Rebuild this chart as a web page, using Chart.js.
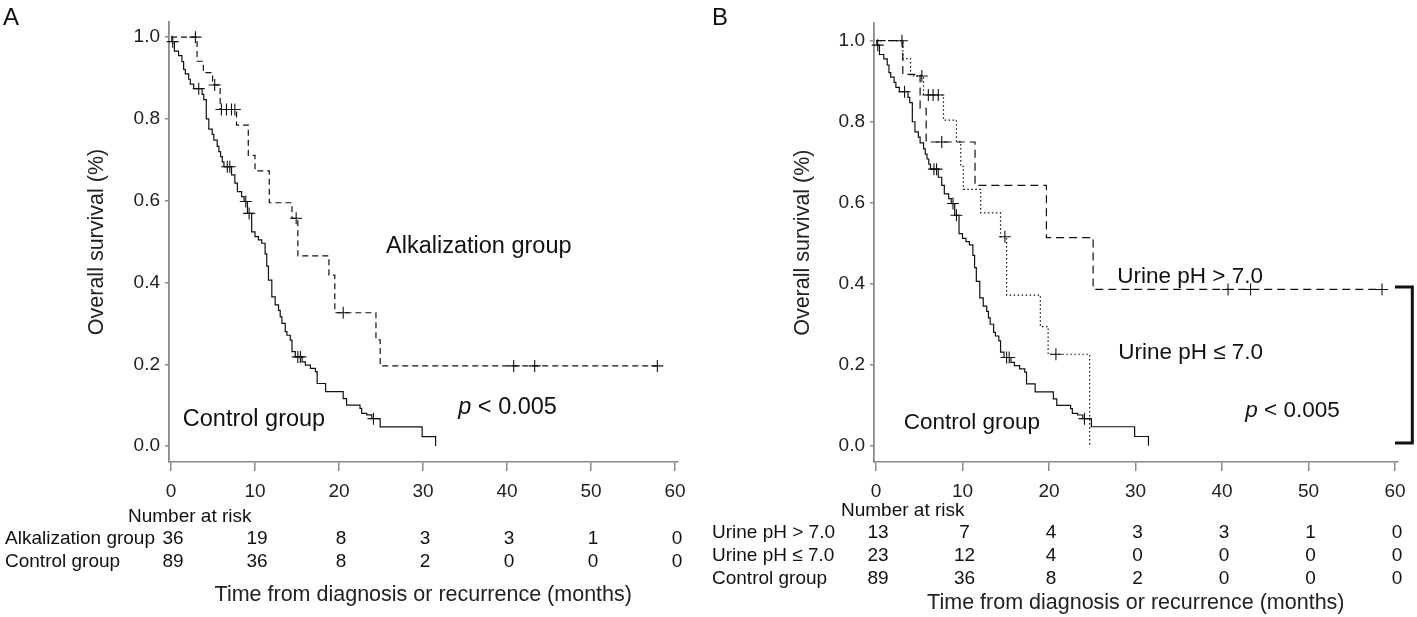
<!DOCTYPE html>
<html>
<head>
<meta charset="utf-8">
<script src="https://cdn.jsdelivr.net/npm/chart.js@4.4.1/dist/chart.umd.min.js"></script>
<style>
  html, body { margin: 0; padding: 0; background: #fff; }
  .wrap { position: relative; width: 1417px; height: 617px; }
  .panel { position: absolute; top: 0; height: 617px; }
  #panelA { left: 0; width: 700px; }
  #panelB { left: 700px; width: 717px; }
</style>
</head>
<body>
<div class="wrap">
  <div class="panel" id="panelA"><canvas id="chartA"></canvas></div>
  <div class="panel" id="panelB"><canvas id="chartB"></canvas></div>
</div>
<script>
const FONT = '"Liberation Sans", Arial, Helvetica, sans-serif';
Chart.defaults.font.family = FONT;
Chart.defaults.color = '#222';

// axis ticks
const xTicks = [0, 10, 20, 30, 40, 50, 60];
const yTicks = [0, 0.2, 0.4, 0.6, 0.8, 1.0];

// control group (both panels): event times (months) and survival after each event
const ctrlT = [0, 0.1, 0.4, 0.9, 1.3, 1.5, 1.7, 2.1, 2.3, 2.7, 3.7, 3.9, 4.2, 4.5, 4.9, 5.1,
  5.5, 5.7, 5.9, 6.1, 6.3, 7.2, 7.6, 7.9, 8.4, 8.7, 9.1, 9.6, 10.0, 10.4, 10.8, 11.2, 11.4,
  11.6, 12.0, 12.4, 12.8, 13.0, 13.2, 13.6, 13.8, 14.2, 14.4, 14.8, 15.6, 16.0, 16.6, 17.2,
  17.4, 18.4, 20.5, 20.9, 22.5, 22.7, 23.3, 23.9, 24.9, 29.9, 31.5];
const ctrlS = [1, 0.989, 0.966, 0.955, 0.940, 0.921, 0.910, 0.897, 0.885, 0.874, 0.860, 0.847,
  0.800, 0.775, 0.762, 0.748, 0.733, 0.720, 0.708, 0.695, 0.683, 0.663, 0.643, 0.622, 0.610,
  0.598, 0.569, 0.524, 0.512, 0.504, 0.496, 0.470, 0.440, 0.406, 0.365, 0.345, 0.332, 0.316,
  0.300, 0.280, 0.271, 0.259, 0.231, 0.218, 0.206, 0.198, 0.190, 0.182, 0.153, 0.133, 0.116,
  0.100, 0.092, 0.080, 0.076, 0.067, 0.047, 0.023, 0];
const ctrlCens = [0.2, 3.3, 6.7, 7.0, 8.9, 9.3, 15.1, 15.4, 24.1];

// panel A, alkalization group
const alkT = [0, 3.1, 3.85, 4.95, 5.85, 7.8, 9.2, 10.0, 11.7, 14.4, 15.1, 18.8, 19.5, 24.4, 24.9, 58.0];
const alkS = [1, 0.941, 0.913, 0.883, 0.823, 0.785, 0.711, 0.673, 0.595, 0.557, 0.465, 0.418, 0.326, 0.26, 0.196, 0.196];
const alkCens = [2.9, 5.2, 6.0, 6.6, 7.2, 7.6, 14.9, 20.5, 40.8, 43.3, 57.9];

// panel B, urine pH > 7.0
const hiT = [0, 3.1, 5.1, 5.8, 11.45, 19.7, 25.1, 58.6];
const hiS = [1, 0.917, 0.833, 0.75, 0.643, 0.514, 0.386, 0.386];
const hiCens = [3.0, 7.6, 40.7, 43.3, 58.5];

// panel B, urine pH <= 7.0
const loT = [0, 3.1, 4.0, 5.5, 7.8, 9.3, 9.8, 10.1, 12.1, 14.4, 15.1, 19.0, 19.9, 24.7];
const loS = [1, 0.956, 0.913, 0.866, 0.804, 0.751, 0.690, 0.633, 0.575, 0.516, 0.372, 0.294, 0.226, 0];
const loCens = [5.3, 6.05, 6.6, 7.2, 14.9, 20.8];

// numbers at risk at each x tick
const riskAlk = [36, 19, 8, 3, 3, 1, 0];
const riskCtrl = [89, 36, 8, 2, 0, 0, 0];
const riskHi = [13, 7, 4, 3, 3, 1, 0];
const riskLo = [23, 12, 4, 0, 0, 0, 0];

function steps(ts, ss) {
  return ts.map((t, i) => ({ x: t, y: ss[i] }));
}

function survAt(t, ts, ss) {
  let s = ss[0];
  for (let i = 0; i < ts.length; i++) { if (ts[i] <= t) s = ss[i]; }
  return s;
}

function censors(cens, ts, ss) {
  return cens.map(t => ({ x: t, y: survAt(t, ts, ss) }));
}

function curve(ts, ss, dash) {
  return {
    type: 'line', data: steps(ts, ss), stepped: true, borderColor: '#111',
    borderWidth: 1.2, borderDash: dash, pointRadius: 0, fill: false
  };
}

function marks(cens, ts, ss) {
  return {
    type: 'scatter', data: censors(cens, ts, ss), pointStyle: 'cross', pointRadius: 6,
    borderColor: '#111', borderWidth: 1.1, showLine: false, clip: false
  };
}

function extras(cfg) {
  return {
    id: 'extras',
    afterDraw(chart) {
      const { ctx } = chart;
      const x = chart.scales.x, y = chart.scales.y;
      const noteFont = cfg.noteSize + 'px ' + FONT;
      ctx.save();
      ctx.fillStyle = '#111';
      ctx.textBaseline = 'middle';
      ctx.textAlign = 'left';
      ctx.font = '24px ' + FONT;
      ctx.fillText(cfg.letter, cfg.letterX, 18);

      ctx.font = noteFont;
      cfg.notes.forEach(n => {
        let px = x.getPixelForValue(n.t);
        const py = y.getPixelForValue(n.s);
        if (n.italic) {
          ctx.font = 'italic ' + noteFont;
          ctx.fillText(n.italic, px, py);
          px += ctx.measureText(n.italic).width;
          ctx.font = noteFont;
        }
        ctx.fillText(n.text, px, py);
      });

      ctx.font = '19px ' + FONT;
      ctx.fillText('Number at risk', cfg.headX, cfg.headY);
      cfg.rows.forEach((row, i) => {
        ctx.textAlign = 'left';
        ctx.fillText(row.label, cfg.labelX, cfg.rowY[i]);
        ctx.textAlign = 'center';
        row.values.forEach((v, j) => {
          ctx.fillText(String(v), x.getPixelForValue(xTicks[j]) + 2, cfg.rowY[i]);
        });
      });

      if (cfg.bracket) {
        const b = cfg.bracket;
        const x0 = x.getPixelForValue(b.t0), x1 = x.getPixelForValue(b.t1);
        const y0 = y.getPixelForValue(b.s0), y1 = y.getPixelForValue(b.s1);
        ctx.strokeStyle = '#111';
        ctx.lineWidth = 3;
        ctx.beginPath();
        ctx.moveTo(x0, y0);
        ctx.lineTo(x1, y0);
        ctx.lineTo(x1, y1);
        ctx.lineTo(x0, y1);
        ctx.stroke();
      }
      ctx.restore();
    }
  };
}

function options(p) {
  const axisColor = '#8a8a8a';
  return {
    responsive: true,
    maintainAspectRatio: false,
    animation: false,
    layout: { padding: { left: 0, top: p.top, right: p.right, bottom: 0 } },
    plugins: { legend: { display: false }, tooltip: { enabled: false } },
    scales: {
      x: {
        type: 'linear', min: p.xmin, max: 60.3,
        afterBuildTicks: s => { s.ticks = xTicks.map(v => ({ value: v })); },
        afterFit: s => { s.height = 155; },
        ticks: { callback: v => String(v), font: { size: 19 }, color: '#222', padding: 9, maxRotation: 0, autoSkip: false },
        grid: { drawOnChartArea: false, drawTicks: true, tickLength: 9, color: axisColor, lineWidth: 1.5 },
        border: { display: true, color: axisColor, width: 1.5 },
        title: { display: true, text: 'Time from diagnosis or recurrence (months)', font: { size: 21.5 }, color: '#222', padding: { top: 0, bottom: p.xTitlePad } }
      },
      y: {
        type: 'linear', min: p.ymin, max: p.ymax,
        afterBuildTicks: s => { s.ticks = yTicks.map(v => ({ value: v })); },
        afterFit: s => { s.width = p.yWidth; },
        ticks: { callback: v => v.toFixed(1), font: { size: 19 }, color: '#222', padding: 5 },
        grid: { drawOnChartArea: false, drawTicks: true, tickLength: 4, color: axisColor, lineWidth: 1.5 },
        border: { display: true, color: axisColor, width: 1.8 },
        title: { display: true, text: 'Overall survival (%)', font: { size: 21.5 }, color: '#222', padding: { top: p.yTitlePad, bottom: 0 } }
      }
    }
  };
}

new Chart(document.getElementById('chartA'), {
  type: 'line',
  data: {
    datasets: [
      curve(alkT, alkS, [6, 4]),
      marks(alkCens, alkT, alkS),
      curve(ctrlT, ctrlS, []),
      marks(ctrlCens, ctrlT, ctrlS)
    ]
  },
  options: options({ top: 22, right: 22.5, xmin: -0.24, ymin: -0.039, ymax: 1.037, yWidth: 169, xTitlePad: 9, yTitlePad: 84 }),
  plugins: [extras({
    letter: 'A', letterX: 3, noteSize: 23.5,
    notes: [
      { text: 'Alkalization group', t: 25.6, s: 0.487 },
      { text: 'Control group', t: 1.4, s: 0.064 },
      { italic: 'p', text: ' < 0.005', t: 34.2, s: 0.095 }
    ],
    headX: 128, headY: 517, labelX: 5, rowY: [539, 562],
    rows: [
      { label: 'Alkalization group', values: riskAlk },
      { label: 'Control group', values: riskCtrl }
    ]
  })]
});

new Chart(document.getElementById('chartB'), {
  type: 'line',
  data: {
    datasets: [
      curve(hiT, hiS, [8, 5]),
      marks(hiCens, hiT, hiS),
      curve(loT, loS, [1.5, 2.5]),
      marks(loCens, loT, loS),
      curve(ctrlT, ctrlS, []),
      marks(ctrlCens, ctrlT, ctrlS)
    ]
  },
  options: options({ top: 23.3, right: 19.4, xmin: -0.23, ymin: -0.040, ymax: 1.043, yWidth: 174, xTitlePad: 1.4, yTitlePad: 90 }),
  plugins: [extras({
    letter: 'B', letterX: 12, noteSize: 22.5,
    notes: [
      { text: 'Urine pH > 7.0', t: 27.9, s: 0.417 },
      { text: 'Urine pH \u2264 7.0', t: 28.0, s: 0.229 },
      { text: 'Control group', t: 3.2, s: 0.056 },
      { italic: 'p', text: ' < 0.005', t: 42.7, s: 0.086 }
    ],
    headX: 141, headY: 511, labelX: 12, rowY: [533, 556, 579],
    rows: [
      { label: 'Urine pH > 7.0', values: riskHi },
      { label: 'Urine pH \u2264 7.0', values: riskLo },
      { label: 'Control group', values: riskCtrl }
    ],
    bracket: { t0: 60.0, t1: 62.0, s0: 0.392, s1: 0.007 }
  })]
});
</script>
</body>
</html>
